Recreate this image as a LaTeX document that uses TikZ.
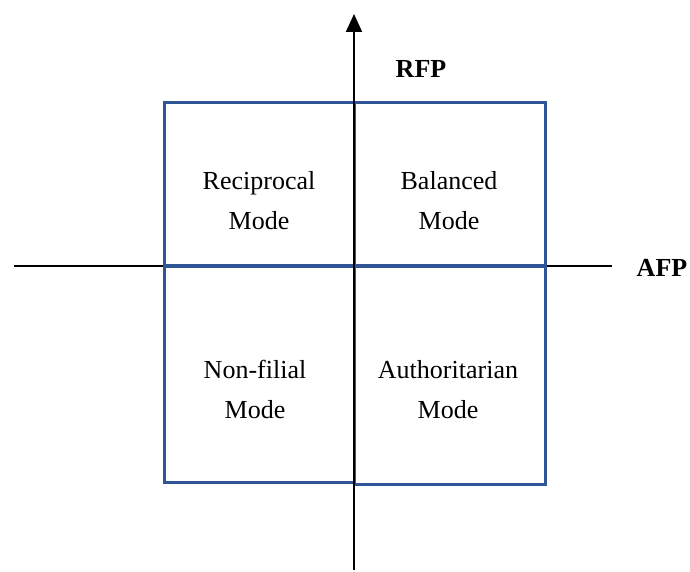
\documentclass[tikz,border=0pt]{standalone}
\usepackage{fontspec}
\setmainfont{Liberation Serif}
\usetikzlibrary{arrows.meta}
\definecolor{boxblue}{HTML}{2F5597}
\tikzset{
	modebox/.style={draw=boxblue, line width=3pt, inner sep=0pt},
	modetext/.style={align=center, font=\fontsize{26}{40}\selectfont},
	axislabel/.style={font=\fontsize{26}{30}\selectfont\bfseries}
}
\begin{document}
\begin{tikzpicture}[x=1pt,y=-1pt]
		\useasboundingbox (0,0) rectangle (690,572);
		% axes end points
		\coordinate (xl) at (14,266);
		\coordinate (xr) at (612,266);
		\coordinate (yb) at (354,570);
		\coordinate (yt) at (354,14);
		\draw[line width=1.5pt] (xl) -- (xr);
		% the four quadrants
		\node[modebox, minimum width=190pt, minimum height=162pt] (tl) at (259,184) {};
		\node[modebox, minimum width=191pt, minimum height=162pt] (tr) at (449.5,184) {};
		\node[modebox, minimum width=190pt, minimum height=216pt] (bl) at (259,374) {};
		\node[modebox, minimum width=191pt, minimum height=218pt] (br) at (449.5,375) {};
		\draw[line width=2pt, -{Triangle[length=18pt,width=16pt]}] (yb) -- (yt);
		\node[modetext] (recip) at (259,201) {Reciprocal\\Mode};
		\node[modetext] (bal) at (449,201) {Balanced\\Mode};
		\node[modetext] (nonf) at (255,389) {Non-filial\\Mode};
		\node[modetext] (auth) at (448,390) {Authoritarian\\Mode};
		\node[axislabel] (rfp) at (421,69) {RFP};
		\node[axislabel] (afp) at (662,268) {AFP};
	\end{tikzpicture}
\end{document}
